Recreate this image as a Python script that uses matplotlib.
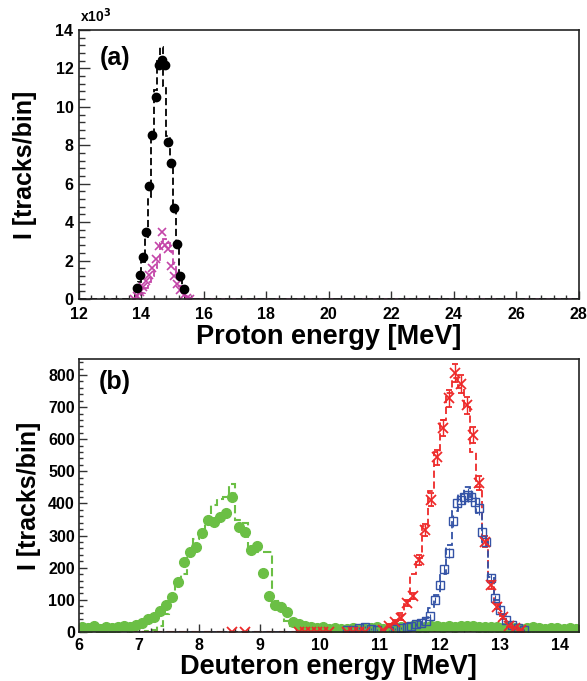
import numpy as np
import matplotlib.pyplot as plt
from matplotlib.ticker import MultipleLocator

plt.rcParams['font.family'] = ['Liberation Sans', 'DejaVu Sans']
plt.rcParams['font.weight'] = 'bold'

# ---- panel (a): protons, counts in units of 10^3 ----
p_black_e = [13.85, 13.95, 14.05, 14.15, 14.25, 14.35, 14.45, 14.55, 14.65, 14.75,
             14.85, 14.95, 15.05, 15.15, 15.25, 15.35]
p_black_i = [0.55, 1.25, 2.2, 3.5, 5.9, 8.55, 10.5, 12.2, 12.45, 12.2,
             8.15, 7.1, 4.75, 2.85, 1.2, 0.5]
p_black_sim = [0.3, 0.9, 1.9, 3.2, 5.3, 8.3, 10.9, 12.4, 13.1, 11.1,
               8.5, 6.9, 4.6, 2.7, 1.1, 0.3]

p_mag_e = [13.75, 13.85, 13.95, 14.05, 14.15, 14.25, 14.35, 14.45, 14.55, 14.65,
           14.75, 14.85, 14.95, 15.05, 15.15, 15.25, 15.35, 15.45, 15.55]
p_mag_i = [0.0, 0.15, 0.35, 0.6, 0.95, 1.25, 1.6, 2.1, 2.75, 3.5,
           2.8, 2.6, 1.7, 1.2, 0.8, 0.45, 0.2, 0.05, 0.0]
p_mag_sim = [0.0, 0.1, 0.3, 0.55, 0.9, 1.2, 1.6, 2.0, 2.9, 3.1,
             2.9, 2.5, 1.8, 1.2, 0.7, 0.4, 0.15, 0.05, 0.0]

# ---- panel (b): deuterons ----
d_green_i = [14, 12, 18, 8, 15, 12, 16, 18, 15, 22,
             28, 40, 46, 66, 84, 110, 157, 219, 250, 266,
             307, 349, 343, 359, 369, 419, 328, 312, 255, 268,
             185, 112, 84, 77, 63, 32, 25,
             20, 15, 12, 14, 10, 12, 8, 10, 12, 9,
             10, 12, 14, 10, 12, 15, 16, 14, 18, 15,
             16, 18, 20, 17, 18, 16, 19, 20, 18, 16,
             15, 14, 16, 12, 14, 12, 10, 12, 14, 12,
             10, 12, 11, 10, 12, 10]
d_green_sim = [0, 2, 5, 18, 55, 115, 150, 180, 245, 290,
               310, 350, 395, 415, 420, 460, 350, 340, 265, 250,
               250, 250, 95, 90, 35, 20, 5]

d_red_e = [8.55, 8.75, 9.65, 9.75, 9.85, 9.95, 10.05, 10.15, 10.45, 10.55, 10.65, 10.75,
           11.05, 11.15, 11.25, 11.35, 11.45, 11.55, 11.65, 11.75, 11.85, 11.95,
           12.05, 12.15, 12.25, 12.35, 12.45, 12.55, 12.65, 12.75, 12.85, 12.95,
           13.05, 13.15, 13.25, 13.35]
d_red_i = [0, 0, 0, 0, 0, 0, 0, 0, 0, 0, 0, 0,
           5, 20, 32, 45, 90, 112, 224, 317, 411, 544,
           634, 727, 807, 772, 706, 613, 463, 281, 146, 79,
           48, 20, 12, 6]
d_red_sim = [5, 15, 35, 60, 95, 180, 230, 330, 440, 560,
             660, 745, 790, 760, 700, 560, 450, 290, 160, 90,
             50, 25, 10, 3]

d_blue_e = [10.45, 10.55, 10.65, 10.75, 10.85, 10.95, 11.15, 11.25, 11.35, 11.45,
            11.52, 11.6, 11.68, 11.76, 11.84, 11.92, 12.0, 12.07, 12.14, 12.22,
            12.28, 12.34, 12.4, 12.46, 12.52, 12.58, 12.64, 12.7, 12.77, 12.84,
            12.92, 13.0, 13.1, 13.2, 13.3, 13.4]
d_blue_i = [5, 5, 12, 15, 10, 6, 4, 8, 12, 15,
            18, 24, 28, 35, 50, 100, 146, 195, 245, 345,
            400, 410, 420, 426, 420, 405, 385, 312, 281, 168,
            106, 68, 37, 22, 12, 6]
d_blue_sim = [3, 5, 8, 12, 15, 20, 30, 45, 75, 115,
              180, 270, 375, 430, 450, 420, 370, 280, 170, 100,
              55, 30, 12, 5]

MAG = '#c445a8'
GREEN = '#6bbf45'
RED = '#ee2a2a'
BLUE = '#3453a6'
DASH = (0, (4, 2))


def pad_hist(lo, hi, start, vals, width=0.1):
    # histogram covering the full axis range, zero outside the filled bins
    edges = np.round(np.arange(lo, hi + width / 2, width), 3)
    full = np.zeros(len(edges) - 1)
    i0 = int(round((start - lo) / width))
    full[i0:i0 + len(vals)] = vals
    return full, edges


def style_axes(ax):
    for s in ax.spines.values():
        s.set_linewidth(1.2)
        s.set_color('#222222')
    ax.tick_params(which='both', direction='in', top=False, right=False,
                   labelsize=11.5, width=1.0, color='#333333')
    for lab in ax.get_xticklabels() + ax.get_yticklabels():
        lab.set_fontweight('bold')


fig = plt.figure(figsize=(5.87, 6.81), dpi=100)
ax1 = fig.add_axes([0.1346, 0.561, 0.851, 0.395])
ax2 = fig.add_axes([0.1346, 0.072, 0.851, 0.401])

# panel (a)
v, e = pad_hist(12.0, 28.0, 13.8, p_mag_sim)
ax1.stairs(v, e, color=MAG, lw=1.3, ls=DASH)
v, e = pad_hist(12.0, 28.0, 13.8, p_black_sim)
ax1.stairs(v, e, color='black', lw=1.3, ls=DASH)
ax1.plot(p_mag_e, p_mag_i, 'x', color=MAG, ms=6, mew=1.2)
ax1.plot(p_black_e, p_black_i, 'o', color='black', ms=6)
ax1.set_xlim(12, 28)
ax1.set_ylim(0, 14)
ax1.xaxis.set_major_locator(MultipleLocator(2))
ax1.xaxis.set_minor_locator(MultipleLocator(0.4))
ax1.yaxis.set_major_locator(MultipleLocator(2))
ax1.yaxis.set_minor_locator(MultipleLocator(0.4))
ax1.tick_params(axis='y', which='major', length=8, pad=4)
ax1.tick_params(axis='y', which='minor', length=4)
ax1.tick_params(axis='x', which='major', length=6, pad=6)
ax1.tick_params(axis='x', which='minor', length=3)
style_axes(ax1)
ax1.set_xlabel('Proton energy [MeV]', fontsize=19.5, fontweight='bold', labelpad=1)
ax1.set_ylabel('I [tracks/bin]', fontsize=18, fontweight='bold', labelpad=13)
ax1.text(12.65, 12.55, '(a)', fontsize=18, fontweight='bold', va='center')
fig.text(0.136, 0.968, r'x10$^\mathbf{3}$', fontsize=10, fontweight='bold')

# panel (b)
v, e = pad_hist(6.0, 14.3, 11.0, d_red_sim)
ax2.stairs(v, e, color=RED, lw=1.3, ls=DASH)
v, e = pad_hist(6.0, 14.3, 11.0, d_blue_sim)
ax2.stairs(v, e, color=BLUE, lw=1.3, ls=DASH)
v, e = pad_hist(6.0, 14.3, 7.0, d_green_sim)
ax2.stairs(v, e, color=GREEN, lw=1.5, ls=DASH)
ax2.axhline(0, color='#8b1a1a', lw=1.5, ls=DASH, zorder=1)
green_e = 6.05 + 0.1 * np.arange(len(d_green_i))
ax2.plot(green_e, d_green_i, 'o', color=GREEN, ms=7)
ax2.errorbar(d_blue_e, d_blue_i, yerr=np.sqrt(d_blue_i), fmt='s', color=BLUE,
             mfc='none', ms=6, mew=1.0, elinewidth=0.8, capsize=0)
ax2.errorbar(d_red_e, d_red_i, yerr=np.sqrt(d_red_i), fmt='x', color=RED,
             ms=7, mew=1.3, elinewidth=1.0, capsize=2.5)
ax2.set_xlim(6, 14.3)
ax2.set_ylim(0, 850)
ax2.xaxis.set_major_locator(MultipleLocator(1))
ax2.xaxis.set_minor_locator(MultipleLocator(0.2))
ax2.yaxis.set_major_locator(MultipleLocator(100))
ax2.yaxis.set_minor_locator(MultipleLocator(20))
ax2.tick_params(axis='both', which='major', length=6)
ax2.tick_params(axis='both', which='minor', length=3)
ax2.tick_params(axis='x', pad=4)
ax2.tick_params(axis='y', pad=3)
style_axes(ax2)
ax2.set_xlabel('Deuteron energy [MeV]', fontsize=19.5, fontweight='bold', labelpad=1)
ax2.set_ylabel('I [tracks/bin]', fontsize=18, fontweight='bold', labelpad=5)
ax2.text(6.33, 778, '(b)', fontsize=18, fontweight='bold', va='center')

fig.savefig('out.png', dpi=100)
